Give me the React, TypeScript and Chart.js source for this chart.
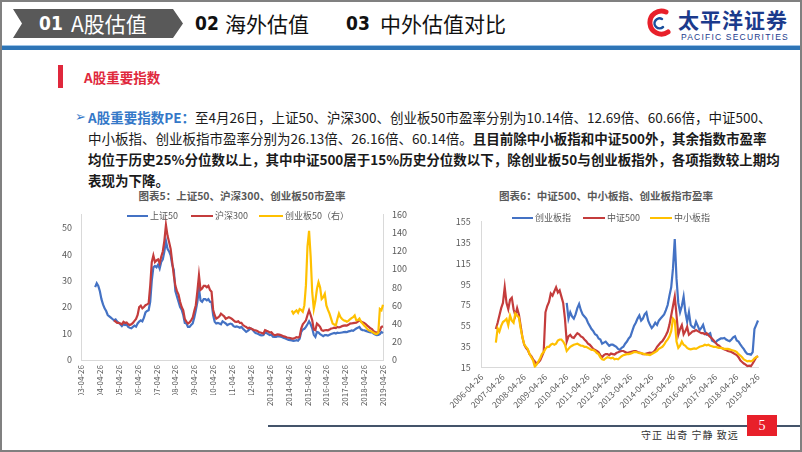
import React, { useEffect, useRef } from "react";
import { Chart, registerables } from "chart.js";

Chart.register(...registerables);

const CJK = "'Noto Sans CJK SC', 'Noto Sans', sans-serif";
const TICK_COLOR = "#595959";
const AXIS_COLOR = "#D9D9D9";
const BLUE = "#4472C4";
const RED = "#C43C3C";
const GOLD = "#FFC000";

function monthLabels(y0: number, m0: number, y1: number, m1: number): string[] {
  const out: string[] = [];
  let y = y0;
  let m = m0;
  while (y < y1 || (y === y1 && m <= m1)) {
    out.push(`${y}-${String(m).padStart(2, "0")}-26`);
    m++;
    if (m > 12) {
      m = 1;
      y++;
    }
  }
  return out;
}

// ---------- Chart 5: 上证50 / 沪深300 / 创业板50 ----------
const C1_CATEGORIES = monthLabels(2003, 4, 2019, 4);
const C1_TICK_LABELS = [
  "2003-04-26", "2004-04-26", "2005-04-26", "2006-04-26", "2007-04-26", "2008-04-26",
  "2009-04-26", "2010-04-26", "2011-04-26", "2012-04-26", "2013-04-26", "2014-04-26",
  "2015-04-26", "2016-04-26", "2017-04-26", "2018-04-26", "2019-04-26",
];
const C1_LEFT_TICKS = [0, 10, 20, 30, 40, 50];
const C1_RIGHT_TICKS = [0, 20, 40, 60, 80, 100, 120, 140, 160];

const SZ50_START = "2004-01-26";
const SZ50 = [
  27.5, 29, 28,
  26, 23, 21, 19.5, 18.5, 17, 16.5, 16, 15.5, 15, 15.3, 14.5,
  14, 13.5, 12.8, 13.5, 13.2, 13.4, 12.5, 12.2, 12, 12.5, 13, 12.6,
  13.8, 14.5, 15, 14.6, 16, 18, 18.5, 18.8, 22, 30, 35, 35.5,
  35, 36, 34.5, 37, 38, 41, 45, 42, 41, 39.5, 36, 34,
  26, 24, 22, 20, 19, 17, 14, 13.8, 12.5, 12.5, 13.2, 13.8,
  16, 18.8, 22, 27, 22.5, 22, 23, 23, 22.5, 23, 22, 21.8,
  17, 14.5, 13.8, 14, 13.8, 13.5, 14.6, 14.2, 13.8, 13.2, 13.5, 13.75,
  13.5, 12.8, 12.5, 12.7, 12.5, 12.2, 12.5, 11.8, 11.2, 10.6, 11, 11.5,
  11.9, 11.5, 10.8, 10.2, 10, 9.7, 9.4, 9.3, 9.4, 10.4, 10.2, 9.8,
  9.4, 9.6, 8.8, 8.7, 8.75, 9, 8.9, 8.8, 8.6, 8.3, 8.1, 7.8,
  7.6, 7.5, 7.4, 7.25, 7.3, 7.5, 7.3, 8, 10.6, 11.5, 11.8, 12.5,
  13.5, 14.6, 13.5, 12, 9.5, 8.75, 10.6, 10.4, 9.8, 9.4, 9.0, 9.4,
  9.4, 9.2, 9.5, 9.8, 10, 10.2, 10, 10.3, 10.2, 10.3, 10.4, 10.5,
  10.6, 10.5, 10.8, 10.9, 11.2, 11, 11.5, 11.9, 12.2, 12.5, 11.6, 11.3,
  11.25, 11, 10.8, 10.6, 10.4, 10.5, 10, 9.6, 9.4, 9.5, 9.8, 10.6,
  10.14,
];

const HS300_START = "2005-01-26";
const HS300 = [
  15, 14.5, 14,
  14, 13.8, 13.5, 14.4, 14, 14.2, 13.5, 13.2, 13.5, 14, 14.8, 15.5,
  17, 20, 20.5, 19.5, 20, 20.7, 21, 21.4, 28, 37, 39.5, 37,
  37.6, 38, 36.5, 39, 41, 45, 51, 47, 44.6, 42, 37, 32,
  28, 26, 24.7, 22, 20, 18.8, 15.5, 14.5, 13.8, 14.2, 15, 16,
  18.5, 20.7, 26, 32, 26.5, 27, 28, 28, 27.5, 28, 26.5, 25.8,
  19, 16.9, 15.6, 16, 16.5, 17.5, 17, 16.5, 15.6, 15.9, 16.2, 15.9,
  15.5, 15, 14.5, 14.4, 14.6, 14, 14, 13.2, 12.8, 12.5, 12, 12.2,
  11.9, 11.6, 11.3, 11.25, 11, 10.6, 10.4, 10.2, 10, 11.25, 11, 10.8,
  10.4, 10.5, 9.8, 9.4, 9.5, 9.7, 9.6, 9.4, 9.2, 8.9, 8.75, 8.5,
  8.4, 8.3, 8.1, 8.1, 8.3, 8.6, 8.5, 8.8, 11.9, 13.5, 14.2, 15,
  17, 18.75, 17, 15, 11.5, 11.25, 13.75, 13.2, 12.5, 11.25, 11, 11.25,
  11.3, 11.2, 11.5, 11.9, 12, 12.2, 12.1, 12.5, 12.3, 12.5, 12.8, 13,
  13.1, 13, 13.3, 13.75, 13.8, 13.9, 14, 14.1, 14.5, 15, 14.5, 14.3,
  14, 13.6, 13, 12.5, 12, 11.7, 10.9, 10.6, 10.4, 10.5, 11.2, 12.5,
  12.69,
];

const CYB50_START = "2014-06-26";
const CYB50 = [
  54.5, 51, 53, 54.5, 52, 56, 55, 53, 60, 82,
  125, 142, 114, 74.5, 56, 65, 78, 85.5, 80, 67,
  69, 72.7, 60, 55, 51, 45.5, 40, 39, 38, 45,
  51, 47, 45, 43.6, 43, 42, 43, 44.7, 46, 47,
  49, 43.6, 44, 45.5, 42, 40, 38, 36.4, 34, 32.7,
  32, 31, 30, 29, 28.5, 30, 56, 54.5, 60.66,
];

// ---------- Chart 6: 中证500 / 中小板指 / 创业板指 ----------
const C2_CATEGORIES = monthLabels(2006, 4, 2019, 4);
const C2_TICK_LABELS = [
  "2006-04-26", "2007-04-26", "2008-04-26", "2009-04-26", "2010-04-26", "2011-04-26",
  "2012-04-26", "2013-04-26", "2014-04-26", "2015-04-26", "2016-04-26", "2017-04-26",
  "2018-04-26", "2019-04-26",
];
const C2_Y_TICKS = [15, 35, 55, 75, 95, 115, 135, 155];

const CYB_START = "2010-04-26";
const CYB = [
  77, 62, 68, 64, 62, 66, 72, 76, 70, 66,
  64, 62, 58, 55, 52, 50, 47, 46, 43, 42,
  38, 39, 40, 38, 36, 37, 37, 36, 35, 33,
  32, 34, 35, 38, 40, 43, 45, 50, 55, 58,
  62, 65, 60, 62, 66, 68, 60, 56, 53, 55,
  58, 56, 60, 62, 64, 66, 70, 75, 84, 92,
  110, 138, 100, 77, 68, 74, 83, 68, 59, 68,
  56, 54, 53, 59, 55, 51, 53, 56, 50, 46.5,
  47, 48, 41, 40, 39, 41, 42, 43, 43, 43.5,
  42, 41, 40.4, 42, 44, 45, 41, 40, 37.4, 35,
  32.8, 30, 28.2, 28, 27.5, 30, 52, 56, 60.14,
];

const ZZ500_START = "2006-12-26";
const ZZ500 = [
  52, 58, 65, 72, 77, 92, 77, 71, 80, 82,
  71, 65, 72, 66, 55, 44, 37, 34, 32, 28,
  26, 23, 21, 19, 20, 22, 26, 30, 68, 74,
  78, 86, 84, 88, 92, 87, 89, 83, 77, 62,
  40, 45, 46.5, 44, 43.5, 46, 48, 47, 45, 44,
  42, 40.4, 38, 37, 35, 33, 32, 31, 29.7, 27,
  25.2, 27, 28, 28, 27, 28.5, 28, 27.5, 29, 29.7,
  30.5, 31, 31, 30, 29, 29.5, 30, 30.5, 31, 31,
  30, 29.5, 29, 28, 28, 28.5, 29, 29.5, 29, 30,
  32, 35, 37, 39, 40.4, 43, 46, 49.6, 56, 65,
  74, 83, 65, 46.5, 52, 55.8, 47, 50, 54, 46.5,
  48, 49.6, 50, 51, 50, 49, 48, 48, 47, 48,
  46, 44.5, 43, 41, 39, 37, 36, 34.5, 33.5, 32.5,
  32, 31, 30.5, 30, 29, 28, 27, 25, 22, 20.5,
  19, 18, 16.5, 17, 16.5, 19, 22, 25, 26.13,
];

const ZXB_START = "2006-12-26";
const ZXB = [
  39, 52.6, 49.5, 55, 58.7, 60, 61.7, 55.6, 64.9, 60,
  58, 67, 65, 63, 52.6, 44, 37.4, 35, 32.8, 28,
  25, 22, 16, 18, 21, 24, 28, 30, 33, 35,
  35, 37, 38, 37, 38, 41, 42, 42, 40, 37,
  31, 33, 35, 36, 37, 37.5, 38, 37, 36, 36,
  35, 35, 34, 33, 32, 32, 31, 29, 28, 25,
  23, 22.5, 24, 25, 24.5, 24, 24.5, 23, 23.5, 23,
  24.5, 26, 27, 27.5, 28, 28, 28.5, 29, 30, 30,
  29.5, 29, 29, 28.5, 28, 27.5, 27.5, 27, 28, 29,
  30, 31, 33, 34, 35, 37, 40, 42, 45, 50,
  62, 60, 40, 34, 36, 40, 37, 36, 34, 33,
  32.5, 33, 33.5, 33, 34, 35, 35.5, 36, 37, 36.5,
  37, 36, 35.5, 35, 35, 34.5, 34, 34, 33.5, 33,
  33, 33, 32.5, 32, 31.5, 31, 30, 28, 26.7, 25,
  23, 22, 21, 21.5, 21, 22, 24, 25, 26.16,
];

function align(categories: string[], start: string, values: number[]): (number | null)[] {
  const s = categories.indexOf(start);
  return categories.map((_, k) => (k >= s && k - s < values.length ? values[k - s] : null));
}

const tickFont = { family: CJK, size: 9 };

function lineDataset(label: string, data: (number | null)[], color: string, order: number, yAxisID = "y") {
  return {
    label,
    data,
    borderColor: color,
    backgroundColor: color,
    borderWidth: 2.2,
    pointRadius: 0,
    pointHoverRadius: 0,
    tension: 0,
    spanGaps: false,
    order,
    yAxisID,
  };
}

function useChart(ref: React.RefObject<HTMLCanvasElement>, build: () => any) {
  useEffect(() => {
    if (!ref.current) return;
    const chart = new Chart(ref.current, build());
    return () => chart.destroy();
  }, []);
}

function Chart5() {
  const ref = useRef<HTMLCanvasElement>(null);
  useChart(ref, () => ({
    type: "line",
    data: {
      labels: C1_CATEGORIES,
      datasets: [
        lineDataset("上证50", align(C1_CATEGORIES, SZ50_START, SZ50), BLUE, 3),
        lineDataset("沪深300", align(C1_CATEGORIES, HS300_START, HS300), RED, 2),
        lineDataset("创业板50（右）", align(C1_CATEGORIES, CYB50_START, CYB50), GOLD, 1, "y1"),
      ],
    },
    options: {
      animation: false,
      responsive: false,
      maintainAspectRatio: false,
      devicePixelRatio: 1,
      layout: { padding: { top: 12, left: 0, right: 0, bottom: 0 } },
      plugins: { legend: { display: false }, tooltip: { enabled: false }, title: { display: false } },
      scales: {
        x: {
          type: "category",
          offset: false,
          grid: { display: false, drawTicks: false },
          border: { display: true, color: AXIS_COLOR, width: 1 },
          ticks: {
            autoSkip: false,
            minRotation: 90,
            maxRotation: 90,
            padding: 5,
            color: TICK_COLOR,
            font: { family: CJK, size: 8 },
            callback: (_v: any, i: number) => (C1_TICK_LABELS.includes(C1_CATEGORIES[i]) ? C1_CATEGORIES[i] : ""),
          },
          afterFit: (s: any) => {
            s.height = 55;
          },
        },
        y: {
          position: "left",
          min: 0,
          max: 55,
          grid: { display: false, drawTicks: false },
          border: { display: true, color: AXIS_COLOR, width: 1 },
          ticks: { padding: 9, color: TICK_COLOR, font: tickFont },
          afterBuildTicks: (s: any) => {
            s.ticks = C1_LEFT_TICKS.map((v) => ({ value: v }));
          },
          afterFit: (s: any) => {
            s.width = 41;
          },
        },
        y1: {
          position: "right",
          min: 0,
          max: 160,
          grid: { display: false, drawTicks: false },
          border: { display: true, color: AXIS_COLOR, width: 1 },
          ticks: { padding: 9, color: TICK_COLOR, font: tickFont },
          afterBuildTicks: (s: any) => {
            s.ticks = C1_RIGHT_TICKS.map((v) => ({ value: v }));
          },
          afterFit: (s: any) => {
            s.width = 37;
          },
        },
      },
    },
  }));
  return (
    <canvas
      ref={ref}
      width={380}
      height={215}
      style={{ position: "absolute", left: 40, top: 200, width: 380, height: 215 }}
    />
  );
}

function Chart6() {
  const ref = useRef<HTMLCanvasElement>(null);
  useChart(ref, () => ({
    type: "line",
    data: {
      labels: C2_CATEGORIES,
      datasets: [
        lineDataset("创业板指", align(C2_CATEGORIES, CYB_START, CYB), BLUE, 3),
        lineDataset("中证500", align(C2_CATEGORIES, ZZ500_START, ZZ500), RED, 2),
        lineDataset("中小板指", align(C2_CATEGORIES, ZXB_START, ZXB), GOLD, 1),
      ],
    },
    options: {
      animation: false,
      responsive: false,
      maintainAspectRatio: false,
      devicePixelRatio: 1,
      layout: { padding: { top: 10, left: 0, right: 22, bottom: 0 } },
      plugins: { legend: { display: false }, tooltip: { enabled: false }, title: { display: false } },
      scales: {
        x: {
          type: "category",
          offset: false,
          grid: { display: false, drawTicks: false },
          border: { display: true, color: AXIS_COLOR, width: 1 },
          ticks: {
            autoSkip: false,
            minRotation: 45,
            maxRotation: 45,
            padding: 4,
            color: TICK_COLOR,
            font: { family: CJK, size: 8.5 },
            callback: (_v: any, i: number) => (C2_TICK_LABELS.includes(C2_CATEGORIES[i]) ? C2_CATEGORIES[i] : ""),
          },
          afterFit: (s: any) => {
            s.height = 47.3;
          },
        },
        y: {
          position: "left",
          min: 15,
          max: 155,
          grid: { display: false, drawTicks: false },
          border: { display: true, color: AXIS_COLOR, width: 1 },
          ticks: { padding: 11, color: TICK_COLOR, font: tickFont },
          afterBuildTicks: (s: any) => {
            s.ticks = C2_Y_TICKS.map((v) => ({ value: v }));
          },
          afterFit: (s: any) => {
            s.width = 51.7;
          },
        },
      },
    },
  }));
  return (
    <canvas
      ref={ref}
      width={350}
      height={210}
      style={{ position: "absolute", left: 430, top: 205, width: 350, height: 210 }}
    />
  );
}

const abs = (left: number, top: number, extra: React.CSSProperties = {}): React.CSSProperties => ({
  position: "absolute",
  left,
  top,
  whiteSpace: "nowrap",
  ...extra,
});

function LegendItem({ x, y, lineW, color, text }: { x: number; y: number; lineW: number; color: string; text: string }) {
  return (
    <>
      <div style={abs(x, y - 1, { width: lineW, height: 2, background: color })} />
      <div style={abs(x + lineW + 2, y - 7, { fontSize: 9, lineHeight: "14px", color: TICK_COLOR, fontFamily: CJK })}>{text}</div>
    </>
  );
}

const CONDENSED = "'DejaVu Sans Condensed', 'DejaVu Sans', sans-serif";

export default function App() {
  const para: React.CSSProperties = { fontSize: 13.5, lineHeight: "20px", color: "#1a1a1a", fontFamily: CJK };
  return (
    <div
      style={{
        position: "fixed",
        left: 0,
        top: 0,
        width: 802,
        height: 452,
        background: "#ffffff",
        overflow: "hidden",
        fontFamily: CJK,
      }}
    >
      {/* header */}
      <div
        style={abs(13, 9, {
          width: 170,
          height: 29,
          background: "#595959",
          clipPath: "polygon(0 0, 160px 0, 170px 50%, 160px 100%, 0 100%, 9px 50%)",
        })}
      />
      <div style={abs(39, 9, { lineHeight: "29px", fontSize: 19, fontWeight: 700, color: "#fff", fontFamily: CONDENSED })}>01</div>
      <div style={abs(71, 9, { lineHeight: "29px", fontSize: 21, color: "#fff" })}>A股估值</div>
      <div style={abs(195, 9, { lineHeight: "29px", fontSize: 19, fontWeight: 700, color: "#111", fontFamily: CONDENSED })}>02</div>
      <div style={abs(225, 9, { lineHeight: "29px", fontSize: 21, color: "#111" })}>海外估值</div>
      <div style={abs(346, 9, { lineHeight: "29px", fontSize: 19, fontWeight: 700, color: "#111", fontFamily: CONDENSED })}>03</div>
      <div style={abs(380, 9, { lineHeight: "29px", fontSize: 21, color: "#111" })}>中外估值对比</div>

      {/* logo */}
      <svg width="32" height="32" viewBox="0 0 32 32" style={abs(643, 6)}>
        <path d="M23 6 A11.5 11.5 0 1 0 25 26" stroke="#E8202A" strokeWidth="5" fill="none" strokeLinecap="round" />
        <path d="M19 13 A5 5 0 1 0 20 21" stroke="#1B4F9C" strokeWidth="2.5" fill="none" strokeLinecap="round" />
      </svg>
      <div style={abs(678, 6, { fontSize: 21, lineHeight: "26px", fontWeight: 700, color: "#1B3A8C", letterSpacing: 1 })}>太平洋证券</div>
      <div style={abs(681, 31, { fontSize: 8.5, lineHeight: "12px", color: "#1B3A8C", letterSpacing: 1.2, fontFamily: "'Liberation Sans', sans-serif" })}>PACIFIC SECURITIES</div>

      <div style={abs(0, 45, { width: 802, height: 1, background: "#9DC3E6" })} />
      <div style={abs(0, 46, { width: 802, height: 4, background: "#2E75B6" })} />

      {/* section title */}
      <div style={abs(58, 65, { width: 5, height: 23, background: "#E0283C" })} />
      <div style={abs(84, 66, { fontSize: 13.5, lineHeight: "22px", fontWeight: 700, color: "#E0283C" })}>A股重要指数</div>

      {/* paragraph */}
      <div style={abs(75, 107, { ...para, color: "#3478C8", fontFamily: "'DejaVu Sans', sans-serif", fontSize: 13, fontWeight: 700 })}>➢</div>
      <div style={abs(88, 107, para)}>
        <span style={{ color: "#3478C8", fontWeight: 700 }}>A股重要指数PE：</span>
        至4月26日，上证50、沪深300、创业板50市盈率分别为10.14倍、12.69倍、60.66倍，中证500、
      </div>
      <div style={abs(88, 128, para)}>
        中小板指、创业板指市盈率分别为26.13倍、26.16倍、60.14倍。
        <span style={{ fontWeight: 700 }}>且目前除中小板指和中证500外，其余指数市盈率</span>
      </div>
      <div style={abs(88, 149, { ...para, fontWeight: 700 })}>
        均位于历史25%分位数以上，其中中证500居于15%历史分位数以下，除创业板50与创业板指外，各项指数较上期均
      </div>
      <div style={abs(88, 170, { ...para, fontWeight: 700 })}>表现为下降。</div>

      {/* chart 5 */}
      <div style={abs(90, 189, { width: 304, textAlign: "center", fontSize: 10.5, lineHeight: "14px", fontWeight: 700, color: "#595959" })}>
        图表5：上证50、沪深300、创业板50市盈率
      </div>
      <Chart5 />
      <LegendItem x={127} y={216} lineW={21} color={BLUE} text="上证50" />
      <LegendItem x={191} y={216} lineW={22} color={RED} text="沪深300" />
      <LegendItem x={259} y={216} lineW={24} color={GOLD} text="创业板50（右）" />
      <div style={abs(40, 395, { width: 226, height: 28, background: "#fff" })} />

      {/* chart 6 */}
      <div style={abs(456, 189, { width: 300, textAlign: "center", fontSize: 10.5, lineHeight: "14px", fontWeight: 700, color: "#595959" })}>
        图表6：中证500、中小板指、创业板指市盈率
      </div>
      <Chart6 />
      <LegendItem x={512} y={218} lineW={21} color={BLUE} text="创业板指" />
      <LegendItem x={583} y={218} lineW={22} color={RED} text="中证500" />
      <LegendItem x={650} y={218} lineW={22} color={GOLD} text="中小板指" />

      {/* footer */}
      <div style={abs(268, 425, { width: 534, height: 2, background: "#44546A" })} />
      <div style={abs(747, 415, { width: 30, height: 21, background: "#E8202A", color: "#fff", textAlign: "center", lineHeight: "21px", fontSize: 14, fontFamily: "'Liberation Serif', serif" })}>5</div>
      <div style={abs(641, 428, { fontSize: 10, lineHeight: "14px", color: "#333", letterSpacing: 1 })}>守正 出奇 宁静 致远</div>

      {/* frame */}
      <div style={abs(0, 0, { width: 802, height: 452, boxSizing: "border-box", border: "2px solid #808080", pointerEvents: "none" })} />
    </div>
  );
}
